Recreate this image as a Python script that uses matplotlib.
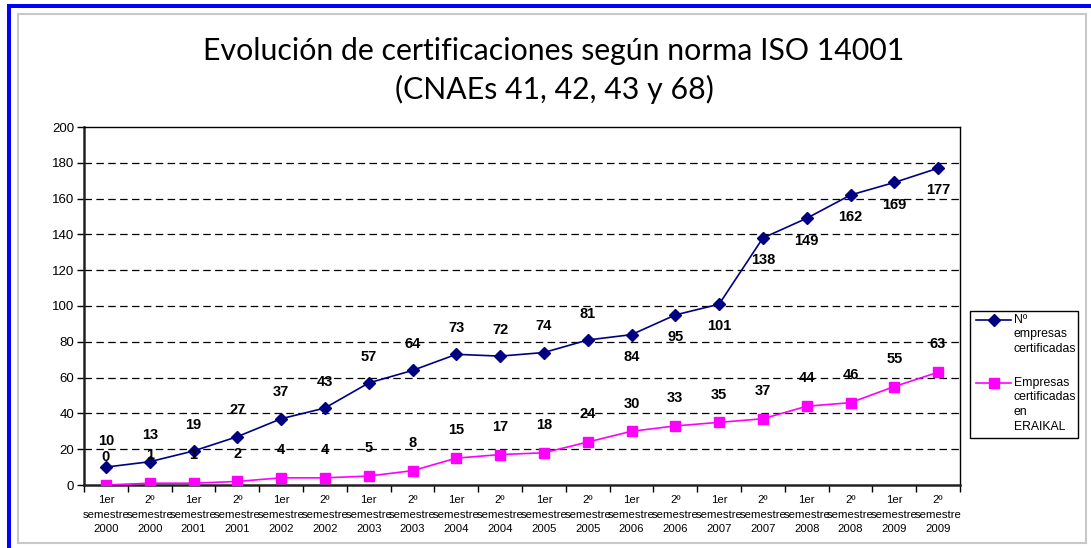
import numpy as np
import matplotlib.pyplot as plt
from matplotlib.lines import Line2D
from matplotlib.patches import Rectangle

# datos
semestres = ["1er", "2º"] * 10
anios = [str(a) for a in range(2000, 2010) for _ in range(2)]
empresas_cert = [10, 13, 19, 27, 37, 43, 57, 64, 73, 72, 74, 81, 84, 95, 101, 138, 149, 162, 169, 177]
empresas_eraikal = [0, 1, 1, 2, 4, 4, 5, 8, 15, 17, 18, 24, 30, 33, 35, 37, 44, 46, 55, 63]
yticks = list(range(0, 201, 20))

plt.rcParams['font.family'] = ['Liberation Sans', 'DejaVu Sans']

W, H = 1091, 548
fig = plt.figure(figsize=(W / 100, H / 100), dpi=100)

def fx(px):
    return px / W

def fy(py):
    return 1 - py / H

# marco
fig.patches.append(Rectangle((fx(18), fy(543)), fx(1086) - fx(18), fy(14) - fy(543),
                             transform=fig.transFigure, fill=False, ec='#c8c8c8', lw=1.5))
fig.patches.append(Rectangle((fx(7), 0), fx(4), fy(4), transform=fig.transFigure,
                             color='#0000ff', lw=0))
fig.patches.append(Rectangle((fx(7), fy(8)), 1 - fx(7), fy(4) - fy(8), transform=fig.transFigure,
                             color='#0000ff', lw=0))

fig.text(fx(554), fy(51), "Evolución de certificaciones según norma ISO 14001",
         ha='center', va='center', fontsize=21.8, family='Lato')
fig.text(fx(554), fy(89), "(CNAEs 41, 42, 43 y 68)",
         ha='center', va='center', fontsize=21.8, family='Lato')

ax = fig.add_axes([fx(84), fy(485), fx(960) - fx(84), fy(127) - fy(485)])
x = np.arange(len(empresas_cert))

ax.plot(x, empresas_cert, color='#000080', lw=1.2, marker='D', ms=6, zorder=3)
ax.plot(x, empresas_eraikal, color='#ff00ff', lw=1.2, marker='s', ms=6.5, zorder=3)

for i, v in enumerate(empresas_cert):
    dy = 19 if i < 12 else -16
    ax.annotate(str(v), (i, v), xytext=(0, dy), textcoords='offset points',
                ha='center', va='center', fontsize=10.5, fontweight='bold')
for i, v in enumerate(empresas_eraikal):
    ax.annotate(str(v), (i, v), xytext=(0, 20), textcoords='offset points',
                ha='center', va='center', fontsize=10.5, fontweight='bold')

ax.set_xlim(-0.5, len(x) - 0.5)
ax.set_ylim(0, 200)
ax.set_yticks(yticks)
ax.tick_params(axis='y', labelsize=9.5, length=5, width=1, pad=2)
ax.set_xticks(x)
ax.set_xticklabels([f"{s}\nsemestre\n{a}" for s, a in zip(semestres, anios)],
                   fontsize=8.2, linespacing=1.6)
ax.set_xticks(np.arange(-0.5, len(x), 1), minor=True)
ax.tick_params(axis='x', which='major', length=0, pad=7)
ax.tick_params(axis='x', which='minor', length=5, width=1)

for t in yticks[1:-1]:
    ax.axhline(t, color='black', lw=0.9, ls=(0, (6, 3.5)), zorder=1)

for s in ['left', 'bottom']:
    ax.spines[s].set_linewidth(1.8)
    ax.spines[s].set_color('#222222')
for s in ['top', 'right']:
    ax.spines[s].set_linewidth(1.0)

# leyenda
fig.patches.append(Rectangle((fx(970), fy(438)), fx(1078) - fx(970), fy(311) - fy(438),
                             transform=fig.transFigure, fill=False, ec='black', lw=1))
entradas = [
    (320, '#000080', 'D', ["Nº", "empresas", "certificadas"]),
    (383, '#ff00ff', 's', ["Empresas", "certificadas", "en", "ERAIKAL"]),
]
for y0, col, mk, lineas in entradas:
    fig.lines.append(Line2D([fx(976), fx(1011)], [fy(y0), fy(y0)], transform=fig.transFigure,
                            color=col, lw=1.2))
    fig.lines.append(Line2D([fx(993.5)], [fy(y0)], transform=fig.transFigure,
                            color=col, marker=mk, ms=6.5, lw=0))
    for k, txt in enumerate(lineas):
        fig.text(fx(1014), fy(y0 + 14.5 * k), txt, ha='left', va='center', fontsize=8.8)

fig.savefig('out.png', dpi=100)
